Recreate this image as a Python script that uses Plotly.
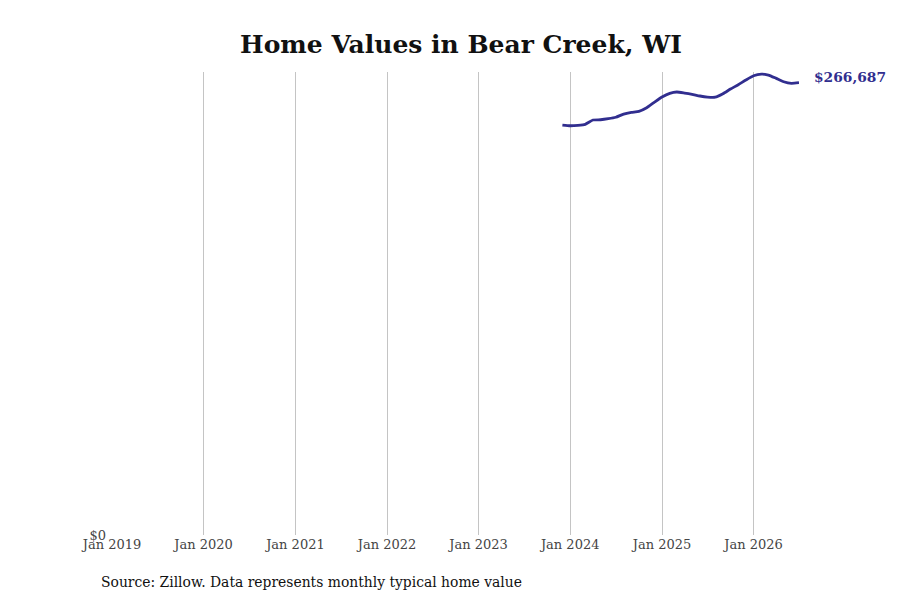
import plotly.graph_objects as go

# monthly typical home value, Dec 2023 - Jul 2026
months = ['2023-12-01', '2024-01-01', '2024-02-01', '2024-03-01', '2024-04-01', '2024-05-01',
          '2024-06-01', '2024-07-01', '2024-08-01', '2024-09-01', '2024-10-01', '2024-11-01',
          '2024-12-01', '2025-01-01', '2025-02-01', '2025-03-01', '2025-04-01', '2025-05-01',
          '2025-06-01', '2025-07-01', '2025-08-01', '2025-09-01', '2025-10-01', '2025-11-01',
          '2025-12-01', '2026-01-01', '2026-02-01', '2026-03-01', '2026-04-01', '2026-05-01',
          '2026-06-01', '2026-07-01']
values = [241700, 241300, 241550, 242150, 244700, 244850,
          245450, 246300, 248200, 249200, 249800, 251900,
          255100, 258250, 260400, 261200, 260600, 259850,
          258850, 258200, 258150, 260200, 262950, 265500,
          268250, 270800, 271800, 271200, 269250, 267250,
          266300, 266687]

tick_vals = ['2019-01-01', '2020-01-01', '2021-01-01', '2022-01-01',
             '2023-01-01', '2024-01-01', '2025-01-01', '2026-01-01']
tick_text = ['Jan 2019', 'Jan 2020', 'Jan 2021', 'Jan 2022',
             'Jan 2023', 'Jan 2024', 'Jan 2025', 'Jan 2026']

line_color = '#312e8f'
serif = 'DejaVu Serif'

fig = go.Figure()
fig.add_trace(go.Scatter(x=months, y=values, mode='lines',
                         line=dict(color=line_color, width=2.8, shape='spline', smoothing=0.5),
                         hoverinfo='skip', showlegend=False))

# label for the latest value
fig.add_annotation(x=months[-1], y=values[-1], text='<b>$%s</b>' % format(values[-1], ','),
                   showarrow=False, xanchor='left', yanchor='middle', xshift=13, yshift=6,
                   font=dict(family=serif, size=13.8, color=line_color))

fig.add_annotation(xref='paper', yref='paper', x=-0.019, y=-0.1015,
                   text='Source: Zillow. Data represents monthly typical home value',
                   showarrow=False, xanchor='left', yanchor='middle',
                   font=dict(family=serif, size=13.9, color='#111111'))

# page has an 8px body margin, so margins are offset by 8
fig.update_layout(
    width=900, height=600,
    paper_bgcolor='white', plot_bgcolor='white',
    margin=dict(l=104, r=109, t=64, b=73),
    title=dict(text='<b>Home Values in Bear Creek, WI</b>', x=453 / 900, xanchor='center',
               y=1 - 36 / 600, yanchor='middle', xref='container', yref='container',
               font=dict(family=serif, size=25, color='#111111')),
    xaxis=dict(range=['2019-01-01', '2026-07-01'], tickvals=tick_vals, ticktext=tick_text,
               showgrid=True, gridcolor='#c4c4c4', gridwidth=1, zeroline=False,
               showline=False, ticks='', tickfont=dict(family=serif, size=13, color='#444444')),
    yaxis=dict(range=[0, 273000], tickvals=[0], ticktext=['$0'], showgrid=False,
               zeroline=False, showline=False, ticks='', ticklabelstandoff=5,
               tickfont=dict(family=serif, size=13, color='#444444')),
)

fig.write_html('out.html')
